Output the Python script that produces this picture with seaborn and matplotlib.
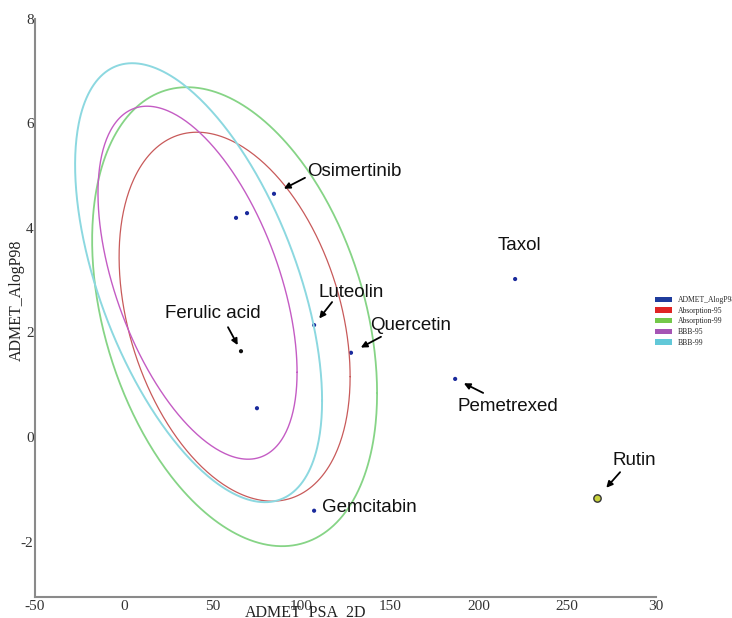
import numpy as np
import pandas as pd
import matplotlib.pyplot as plt
import seaborn as sns
from matplotlib.patches import Patch

# compounds: ADMET_PSA_2D vs ADMET_AlogP98
names = ["Osimertinib", "", "", "Luteolin", "Quercetin", "Ferulic acid", "",
         "Taxol", "Pemetrexed", "Gemcitabin", "Rutin"]
psa = [84.7, 63.3, 69.5, 107.3, 128.1, 66.1, 75.1, 220.6, 186.8, 107.3, 266.8]
alogp = [4.65, 4.19, 4.28, 2.14, 1.61, 1.64, 0.55, 3.02, 1.11, -1.41, -1.17]
kind = ["std", "std", "std", "std", "std", "ref", "std", "std", "std", "std", "hl"]

# confidence ellipses (data units): centre, x half-width, y coupling terms
ell_names = ["Absorption-95", "Absorption-99", "BBB-95", "BBB-99"]
ell_cx = [62.5, 62.5, 41.6, 42.2]
ell_cy = [2.30, 2.30, 2.95, 2.95]
ell_ax = [65.1, 80.3, 56.1, 69.6]
ell_q = [1.147, 1.463, 1.713, 2.256]
ell_r = [3.336, 4.137, 2.908, 3.539]
ell_colors = ["#c85a5a", "#86d486", "#c45cc4", "#8cd8e0"]
ell_lw = [0.9, 1.3, 1.0, 1.4]

legend_labels = ["ADMET_AlogP98"] + ell_names
legend_colors = ["#1f3c9c", "#e02424", "#74c84a", "#a554b4", "#62c8d8"]

df = pd.DataFrame({"psa": psa, "alogp": alogp, "name": names, "kind": kind})

sns.set_style("white")
plt.rcParams["axes.unicode_minus"] = False
fig = plt.figure(figsize=(7.32, 6.18), dpi=100)
ax = fig.add_axes([35 / 732, 21 / 618, 621 / 732, 578.4 / 618])

t = np.linspace(0, 2 * np.pi, 400)
for cx, cy, a, q, r, c, lw in zip(ell_cx, ell_cy, ell_ax, ell_q, ell_r, ell_colors, ell_lw):
    ax.plot(cx + a * np.cos(t), cy - q * np.cos(t) - r * np.sin(t), color=c, lw=lw)

sns.scatterplot(data=df[df["kind"] != "hl"], x="psa", y="alogp", hue="kind",
                palette={"std": "#1a2a9c", "ref": "#111111"}, s=9,
                linewidth=0, legend=False, ax=ax)
sns.scatterplot(data=df[df["kind"] == "hl"], x="psa", y="alogp", color="#c8d23c",
                edgecolor="#333333", linewidth=1.0, s=28, legend=False, ax=ax)

# label offsets (pixels): text position, arrow tail, gap to point
label_style = {
    "Osimertinib": ((33, 22), (31, 16), 8),
    "Taxol": ((-17, 34), None, 0),
    "Luteolin": ((4, 33), (18, 23), 6),
    "Ferulic acid": ((-76, 38), (-13, 24), 5),
    "Quercetin": ((19, 27), (30, 16), 8),
    "Pemetrexed": ((2, -28), (28, -14), 7),
    "Rutin": ((15, 38), (23, 26), 10),
    "Gemcitabin": ((8, 3), None, 0),
}
for _, row in df.iterrows():
    if row["name"] not in label_style:
        continue
    toff, aoff, gap = label_style[row["name"]]
    ax.annotate(row["name"], xy=(row["psa"], row["alogp"]), xytext=toff,
                textcoords="offset pixels", ha="left", va="center",
                fontsize=13.5, family="Liberation Sans", color="#111111")
    if aoff is not None:
        ax.annotate("", xy=(row["psa"], row["alogp"]), xytext=aoff,
                    textcoords="offset pixels",
                    arrowprops=dict(arrowstyle="-|>", color="black", lw=1.3,
                                    mutation_scale=9, shrinkA=0, shrinkB=gap))

ax.set_xlim(-50, 300)
ax.set_ylim(-3.06, 8)
ax.set_xticks([-50, 0, 50, 100, 150, 200, 250, 300])
ax.set_xticklabels(["-50", "0", "50", "100", "150", "200", "250", "30"])
ax.set_yticks([-2, 0, 2, 4, 6, 8])
for lab in ax.get_xticklabels() + ax.get_yticklabels():
    lab.set_family("Liberation Serif")
    lab.set_fontsize(11)
    lab.set_color("#333333")
ax.tick_params(axis="both", direction="out", length=3, width=1, color="#777777")
ax.tick_params(axis="x", pad=-1)
ax.tick_params(axis="y", pad=-2)

for s in ["top", "right"]:
    ax.spines[s].set_visible(False)
for s in ["left", "bottom"]:
    ax.spines[s].set_color("#8a8a8a")
    ax.spines[s].set_linewidth(1.5)

ax.set_xlabel("ADMET_PSA_2D", family="Liberation Serif", fontsize=11.5, color="#222222")
ax.xaxis.set_label_coords(0.435, -0.026)
ax.set_ylabel("ADMET_AlogP98", family="Liberation Serif", fontsize=11.5, color="#222222")
ax.yaxis.set_label_coords(-0.029, 0.513)
ax.xaxis.label.set_va("center")
ax.yaxis.label.set_va("center")

handles = [Patch(facecolor=c, edgecolor="none") for c in legend_colors]
fig.legend(handles, legend_labels, loc="upper left", bbox_to_anchor=(655 / 732, 1 - 296 / 618),
           frameon=False, prop={"family": "Liberation Serif", "size": 5.5},
           handlelength=2.2, handleheight=0.7, handletextpad=0.8, labelspacing=0.35,
           borderpad=0, borderaxespad=0)

fig.savefig("out.png", dpi=100)
